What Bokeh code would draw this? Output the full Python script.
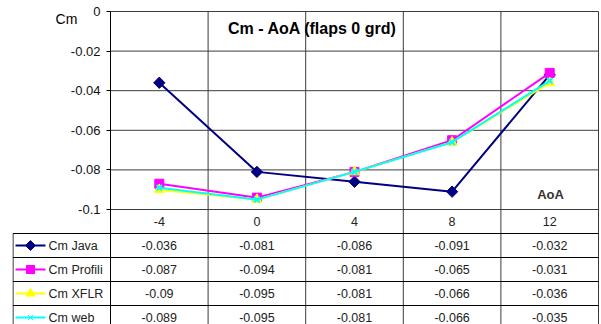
import math
from bokeh.plotting import figure
from bokeh.models import Range1d, FixedTicker, Label, ColumnDataSource, LinearAxis
from bokeh.embed import file_html
from bokeh.resources import INLINE

# ---- data ----------------------------------------------------------------
aoa = [-4, 0, 4, 8, 12]
aoa_labels = ["-4", "0", "4", "8", "12"]
series_names = ["Cm Java", "Cm Profili", "Cm XFLR", "Cm web"]
cm_java = [-0.036, -0.081, -0.086, -0.091, -0.032]
cm_profili = [-0.087, -0.094, -0.081, -0.065, -0.031]
cm_xflr = [-0.09, -0.095, -0.081, -0.066, -0.036]
cm_web = [-0.089, -0.095, -0.081, -0.066, -0.035]
y_ticks = [0, -0.02, -0.04, -0.06, -0.08, -0.1]
y_tick_labels = ["0", "-0.02", "-0.04", "-0.06", "-0.08", "-0.1"]

series = [cm_java, cm_profili, cm_xflr, cm_web]
styles = [
    dict(color="#000080", marker="square", size=8, angle=math.pi / 4),
    dict(color="#FF00FF", marker="square", size=9, angle=0),
    dict(color="#FFFF00", marker="triangle", size=10, angle=0),
    dict(color="#00FFFF", marker="x", size=8, angle=0),
]

FONT = "Liberation Sans"
W, H = 601, 324
PLOT_LEFT, PLOT_RIGHT = 110, 598        # category area, pixels
PLOT_TOP, PLOT_BOTTOM = 11, 209         # Cm 0 .. Cm -0.1, pixels
TABLE_LEFT = 12
ROW_H = 24
STEP = 4                                # AoA spacing between categories

x_lo, x_hi = aoa[0] - STEP / 2, aoa[-1] + STEP / 2
px_x = (PLOT_RIGHT - PLOT_LEFT) / (x_hi - x_lo)
px_y = (PLOT_BOTTOM - PLOT_TOP) / (y_ticks[0] - y_ticks[-1])
bounds = [x_lo + STEP * i for i in range(len(aoa) + 1)]

# the frame covers chart, table and the top margin
fr_left, fr_right, fr_top = TABLE_LEFT, PLOT_RIGHT + 1, 0
x_start = x_lo - (PLOT_LEFT - fr_left) / px_x
x_end = x_hi + (fr_right - PLOT_RIGHT) / px_x
y_end = y_ticks[0] + (PLOT_TOP - fr_top) / px_y
y_start = y_ticks[-1] - (H - PLOT_BOTTOM) / px_y
# table rows: row k starts at the chart's bottom line + k * ROW_H
rows_top = (fr_top - PLOT_BOTTOM) / ROW_H
rows_bottom = (H - PLOT_BOTTOM) / ROW_H

p = figure(width=W, height=H, title=None,
           x_range=Range1d(x_start, x_end), y_range=Range1d(y_start, y_end),
           x_axis_location=None, y_axis_location=None,
           output_backend="svg", toolbar_location=None,
           min_border=0, min_border_left=fr_left, min_border_right=W - fr_right,
           min_border_top=fr_top, min_border_bottom=0)
p.extra_y_ranges = {"table": Range1d(rows_bottom, rows_top)}
p.outline_line_color = None
p.xgrid.visible = False
p.ygrid.visible = False

GRID = "#3c3c3c"
# vertical category separators run through chart and table
sep = bounds[1:]
p.segment(x0=sep, y0=[y_ticks[0]] * len(sep), x1=sep, y1=[y_start] * len(sep),
          line_color=GRID, line_width=1)
# horizontal value grid inside the chart
p.segment(x0=[x_lo] * len(y_ticks), y0=y_ticks, x1=[x_hi] * len(y_ticks), y1=y_ticks,
          line_color=GRID, line_width=1)

# value axis drawn at the left edge of the category area
yax = LinearAxis(fixed_location=x_lo, ticker=FixedTicker(ticks=y_ticks),
                 bounds=(y_start, y_ticks[0]))
yax.major_label_overrides = dict(zip(y_ticks, y_tick_labels))
yax.minor_tick_line_color = None
yax.major_tick_in = 0
yax.major_tick_out = 4
yax.major_label_standoff = 6
yax.axis_line_color = "black"
yax.major_tick_line_color = "black"
yax.major_label_text_font = FONT
yax.major_label_text_font_size = "13px"
yax.major_label_text_color = "#111111"
p.add_layout(yax, "left")

for vals, st in zip(series, styles):
    p.line(aoa, vals, line_color=st["color"], line_width=2)
    p.scatter(aoa, vals, marker=st["marker"], size=st["size"], angle=st["angle"],
              fill_color=st["color"], line_color=st["color"],
              line_width=2 if st["marker"] == "x" else 1)

def px_to_x(px):
    return x_lo + (px - PLOT_LEFT) / px_x

def px_to_y(py):
    return y_ticks[0] - (py - PLOT_TOP) / px_y

p.add_layout(Label(x=px_to_x(312), y=px_to_y(28), text="Cm - AoA (flaps 0 grd)",
                   text_font=FONT, text_font_size="16px", text_font_style="bold",
                   text_color="black", text_align="center", text_baseline="middle"))
p.add_layout(Label(x=px_to_x(66), y=px_to_y(18), text="Cm",
                   text_font=FONT, text_font_size="14px", text_color="black",
                   text_align="center", text_baseline="middle"))
p.add_layout(Label(x=px_to_x(550), y=px_to_y(194), text="AoA",
                   text_font=FONT, text_font_size="13px", text_font_style="bold",
                   text_color="#333333", text_align="center", text_baseline="middle"))

# ---- data table ----------------------------------------------------------
n_rows = len(series) + 1
rows = list(range(1, n_rows + 1))
t_left = px_to_x(TABLE_LEFT + 0.5)
p.segment(x0=[t_left] * len(rows), y0=rows, x1=[x_hi] * len(rows), y1=rows,
          line_color="black", line_width=1, y_range_name="table")
p.segment(x0=[t_left], y0=[1], x1=[t_left], y1=[n_rows],
          line_color="black", line_width=1, y_range_name="table")

TXT = "#222222"
TSIZE = "12.5px"
p.text(x=aoa, y=[0.5] * len(aoa), text=aoa_labels, text_font={"value": FONT},
       text_font_size=TSIZE, text_color=TXT, text_align="center",
       text_baseline="middle", y_range_name="table")

cx, cy, ct = [], [], []
for r, vals in enumerate(series):
    for a, v in zip(aoa, vals):
        cx.append(a)
        cy.append(r + 1.5)
        ct.append(str(v))
p.text(x="x", y="y", text="t", source=ColumnDataSource(dict(x=cx, y=cy, t=ct)),
       text_font={"value": FONT}, text_font_size=TSIZE, text_color=TXT,
       text_align="center", text_baseline="middle", y_range_name="table")

# legend keys in the first column
key_x0, key_x1 = px_to_x(15), px_to_x(45)
key_xm = (key_x0 + key_x1) / 2
txt_x = px_to_x(48)
for r, (name, st) in enumerate(zip(series_names, styles)):
    yy = r + 1.5
    p.line([key_x0, key_x1], [yy, yy], line_color=st["color"], line_width=2,
           y_range_name="table")
    p.scatter([key_xm], [yy], marker=st["marker"], size=st["size"] - 1, angle=st["angle"],
              fill_color=st["color"], line_color=st["color"], y_range_name="table")
    p.text(x=[txt_x], y=[yy], text=[name], text_font={"value": FONT},
           text_font_size=TSIZE, text_color=TXT, text_align="left",
           text_baseline="middle", y_range_name="table")

open("out.html", "w").write(file_html(p, INLINE))
